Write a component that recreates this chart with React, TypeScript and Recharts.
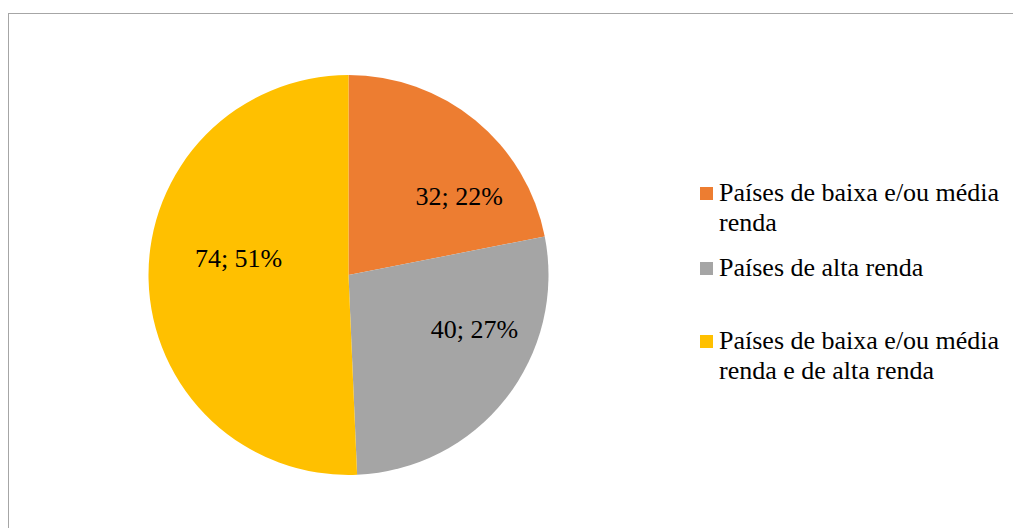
import { PieChart, Pie, Cell, Legend } from "recharts"

const categories = [
  "Países de baixa e/ou média renda",
  "Países de alta renda",
  "Países de baixa e/ou média renda e de alta renda",
]
const counts = [32, 40, 74]
const colors = ["#ED7D31", "#A5A5A5", "#FFC000"]

// Excel "best fit" label spots: angle shift from mid-angle (deg) and radius ratio
const labelShift = [-15, 15, -10]
const labelRadius = [0.68, 0.685, 0.556]
// extra space above each legend entry
const legendGap = [0, 15, 43]

const data = categories.map((name, i) => ({ name, value: counts[i] }))

const FONT = "'Liberation Serif', 'Times New Roman', serif"
const RAD = Math.PI / 180

const css = `
html, body { overflow: hidden; }
html body #root .chart-frame .recharts-wrapper,
html body #root .chart-frame .recharts-wrapper *,
html body #root .chart-frame .recharts-wrapper text,
html body #root .chart-frame .recharts-wrapper tspan {
  font-family: ${FONT} !important;
}
`

function renderLabel(props: any) {
  const { cx, cy, midAngle, outerRadius, value, percent, index } = props
  const a = (midAngle + labelShift[index]) * RAD
  const r = outerRadius * labelRadius[index]
  const x = cx + r * Math.cos(a)
  const y = cy - r * Math.sin(a)
  return (
    <text
      x={x}
      y={y}
      dy="0.36em"
      textAnchor="middle"
      fill="#000"
      fontFamily={FONT}
      fontSize={26}
    >
      {`${value}; ${Math.round(percent * 100)}%`}
    </text>
  )
}

function LegendContent() {
  return (
    <div style={{ fontFamily: FONT, fontSize: 26, lineHeight: "30px", color: "#000" }}>
      {categories.map((name, i) => (
        <div
          key={name}
          style={{ position: "relative", paddingLeft: 19, marginTop: legendGap[i], width: 300 }}
        >
          <span
            style={{
              position: "absolute",
              left: 0,
              top: 9,
              width: 13,
              height: 13,
              background: colors[i],
            }}
          />
          {name}
        </div>
      ))}
    </div>
  )
}

export default function App() {
  return (
    <>
      <style>{css}</style>
      <div
        className="chart-frame"
        style={{
          marginTop: 5,
          width: 1013,
          height: 515,
          boxSizing: "border-box",
          borderTop: "1.5px solid #a6a6a6",
          borderLeft: "1.5px solid #a6a6a6",
          background: "#fff",
          fontFamily: FONT,
        }}
      >
        <PieChart width={1012} height={514} margin={{ top: 0, right: 0, bottom: 0, left: 0 }}>
          <Pie
            data={data}
            dataKey="value"
            nameKey="name"
            cx={339.5}
            cy={261}
            outerRadius={200}
            startAngle={90}
            endAngle={-270}
            stroke="none"
            label={renderLabel}
            labelLine={false}
            isAnimationActive={false}
          >
            {data.map((d, i) => (
              <Cell key={d.name} fill={colors[i]} />
            ))}
          </Pie>
          <Legend
            layout="vertical"
            content={<LegendContent />}
            wrapperStyle={{ left: 691, top: 164, width: 320 }}
          />
        </PieChart>
      </div>
    </>
  )
}
